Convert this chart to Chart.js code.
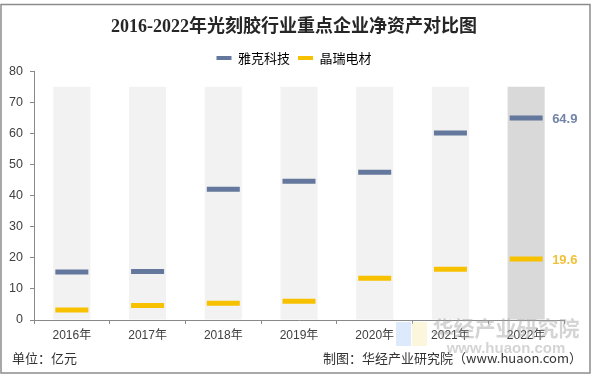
<!DOCTYPE html>
<html>
<head>
<meta charset="utf-8">
<script src="https://cdn.jsdelivr.net/npm/chart.js@4.4.0/dist/chart.umd.min.js"></script>
<style>
	html, body { margin: 0; padding: 0; background: #fff; }
	#wrap { width: 593px; height: 376px; }
</style>
</head>
<body>
<div id="wrap"><canvas id="netAssetChart" width="593" height="376"></canvas></div>
<script>
// 2016-2022 photoresist key companies net assets (亿元)
const years = ['2016年', '2017年', '2018年', '2019年', '2020年', '2021年', '2022年'];
const yakeValues = [15.4, 15.6, 42.0, 44.6, 47.5, 60.1, 64.9];
const jingruiValues = [3.2, 4.7, 5.4, 6.0, 13.4, 16.3, 19.6];
const columnValues = [75, 75, 75, 75, 75, 75, 75];
const seriesNames = ['雅克科技', '晶瑞电材'];

const BLUE = '#64779c';
const YELLOW = '#f7c100';

// legend takes a bit less room below its row
const legendTrim = {
	id: 'legendTrim',
	beforeLayout(chart) {
		const lg = chart.legend;
		if (lg && !lg._trimmed) {
			const fit = lg.fit.bind(lg);
			lg.fit = function () { fit(); this.height -= 3.5; };
			lg._trimmed = true;
		}
	},
	// centre title and legend over the whole picture
	afterLayout(chart) {
		[chart.titleBlock, chart.legend].forEach(box => {
			if (!box) return;
			box.left += 12;
			box.right += 12;
		});
	}
};

// last value labels next to the 2022 column
const lastValueLabels = {
	id: 'lastValueLabels',
	afterDatasetsDraw(chart) {
		const ctx = chart.ctx;
		ctx.save();
		ctx.font = 'bold 13px "Liberation Sans", Arial, sans-serif';
		ctx.textAlign = 'left';
		ctx.textBaseline = 'middle';
		[{ idx: 1, color: '#7384a8' }, { idx: 2, color: '#f0c23a' }].forEach(s => {
			const pts = chart.getDatasetMeta(s.idx).data;
			const p = pts[pts.length - 1];
			const val = chart.data.datasets[s.idx].data[pts.length - 1];
			ctx.fillStyle = s.color;
			ctx.fillText(val.toFixed(1), p.x + 26, p.y + 1);
		});
		ctx.restore();
	}
};

// frame, footnotes and faint watermark
const decorations = {
	id: 'decorations',
	afterDraw(chart) {
		const ctx = chart.ctx;
		ctx.save();
		// watermark
		ctx.globalAlpha = 0.35;
		ctx.fillStyle = '#9cc3f5';
		ctx.fillRect(396, 322, 15, 24);
		ctx.fillStyle = '#f7e59a';
		ctx.fillRect(412, 322, 15, 24);
		ctx.globalAlpha = 0.45;
		ctx.fillStyle = '#a0a0a0';
		ctx.font = 'bold 21px "Noto Sans CJK SC", sans-serif';
		ctx.textAlign = 'center';
		ctx.textBaseline = 'middle';
		ctx.fillText('华经产业研究院', 506, 328);
		ctx.font = 'bold 15px "Liberation Sans", Arial, sans-serif';
		ctx.fillText('www.huaon.com', 506, 349);
		ctx.globalAlpha = 1;

		ctx.fillStyle = '#333';
		ctx.font = '13px "Noto Sans CJK SC", sans-serif';
		ctx.textAlign = 'left';
		ctx.fillText('单位：亿元', 12, 358);
		ctx.textAlign = 'right';
		ctx.fillText('制图：华经产业研究院（www.huaon.com）', 582, 358);

		ctx.strokeStyle = '#8c8c8c';
		ctx.lineWidth = 1.5;
		ctx.strokeRect(1, 4.5, 589, 368.5);
		ctx.restore();
	}
};

const ctx = document.getElementById('netAssetChart');
new Chart(ctx, {
	type: 'bar',
	data: {
		labels: years,
		datasets: [
			{
				label: 'bg',
				data: columnValues,
				backgroundColor: columnValues.map((v, i) => i === columnValues.length - 1 ? '#d9d9d9' : '#f2f2f2'),
				barPercentage: 0.49,
				categoryPercentage: 1,
				order: 3
			},
			{
				type: 'line',
				label: seriesNames[0],
				data: yakeValues,
				showLine: false,
				pointStyle: 'line',
				pointRadius: 16.5,
				pointBorderWidth: 5,
				borderColor: BLUE,
				backgroundColor: BLUE,
				order: 1
			},
			{
				type: 'line',
				label: seriesNames[1],
				data: jingruiValues,
				showLine: false,
				pointStyle: 'line',
				pointRadius: 16.5,
				pointBorderWidth: 5,
				borderColor: YELLOW,
				backgroundColor: YELLOW,
				order: 2
			}
		]
	},
	options: {
		responsive: false,
		animation: false,
		events: [],
		layout: { padding: { left: 0, right: 29, top: 0, bottom: 0 } },
		plugins: {
			title: {
				display: true,
				text: '2016-2022年光刻胶行业重点企业净资产对比图',
				color: '#262626',
				font: { family: '"Liberation Serif", "Noto Sans CJK SC", serif', size: 18, weight: 'bold' },
				padding: { top: 17, bottom: 5 }
			},
			legend: {
				position: 'top',
				labels: {
					font: { family: '"Noto Sans CJK SC", sans-serif', size: 13 },
					color: '#404040',
					boxWidth: 15,
					boxHeight: 4,
					padding: 8,
					filter: item => item.datasetIndex !== 0,
					generateLabels(chart) {
						return chart.data.datasets.map((ds, i) => ({
							text: ds.label,
							fillStyle: ds.backgroundColor,
							strokeStyle: ds.backgroundColor,
							lineWidth: 0,
							hidden: false,
							datasetIndex: i
						}));
					}
				}
			},
			tooltip: { enabled: false }
		},
		scales: {
			x: {
				afterFit(scale) { scale.height = 56; },
				grid: { drawOnChartArea: false, tickLength: 4, color: '#898989' },
				border: { color: '#898989' },
				ticks: {
					color: '#404040',
					padding: 4,
					font: { family: '"Liberation Sans", "Noto Sans CJK SC", sans-serif', size: 12 }
				}
			},
			y: {
				min: 0,
				max: 80,
				afterFit(scale) { scale.width = 34; },
				grid: { drawOnChartArea: false, tickLength: 4, color: '#898989' },
				border: { color: '#898989' },
				ticks: {
					stepSize: 10,
					color: '#404040',
					padding: 7,
					font: { family: '"Liberation Sans", Arial, sans-serif', size: 12.5 }
				}
			}
		}
	},
	plugins: [legendTrim, lastValueLabels, decorations]
});
</script>
</body>
</html>
